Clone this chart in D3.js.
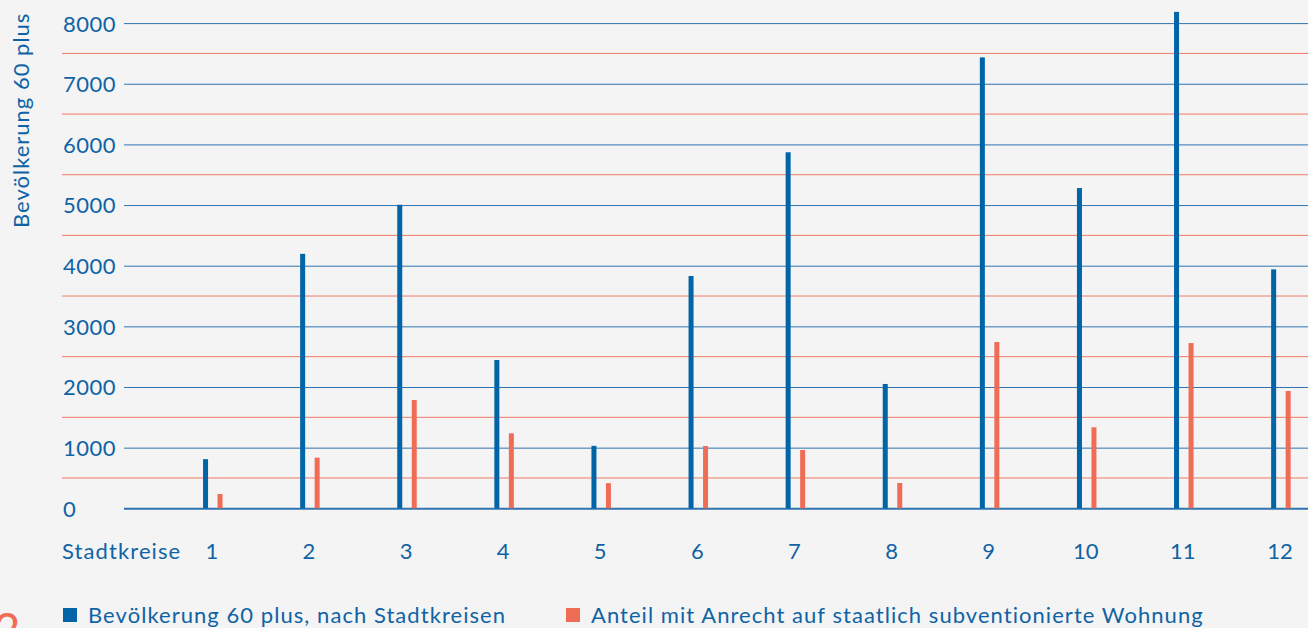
<!DOCTYPE html>
<html>
<head>
<meta charset="utf-8">
<script src="https://cdn.jsdelivr.net/npm/d3@7"></script>
<style>
  html, body { margin: 0; padding: 0; background: #f4f4f4; overflow: hidden; }
  svg { display: block; }
  text { font-family: Lato, "Open Sans", sans-serif; fill: #0f63a5; }
</style>
</head>
<body>
<svg id="chart" width="1308" height="628"></svg>
<script>
// ---- data ----
const categories = ["1", "2", "3", "4", "5", "6", "7", "8", "9", "10", "11", "12"];
const population60 = [810, 4195, 5005, 2445, 1030, 3830, 5870, 2050, 7435, 5280, 8185, 3940];
const entitled = [236, 835, 1785, 1236, 415, 1027, 961, 417, 2742, 1335, 2725, 1934];
const seriesNames = ["Bevölkerung 60 plus, nach Stadtkreisen", "Anteil mit Anrecht auf staatlich subventionierte Wohnung"];
const yTicks = [0, 1000, 2000, 3000, 4000, 5000, 6000, 7000, 8000];
const halfTicks = [500, 1500, 2500, 3500, 4500, 5500, 6500, 7500];
const yTitle = "Bevölkerung 60 plus";
const xTitle = "Stadtkreise";

// ---- styles ----
const BLUE = "#0064a7";
const RED = "#ef6d56";
const BLUE_LINE = "#2f74b0";
const RED_LINE = "#f07a66";

const svg = d3.select("#chart");
svg.append("rect").attr("width", 1308).attr("height", 628).attr("fill", "#f4f4f4");

const y = d3.scaleLinear().domain([0, 8000]).range([508.3, 23.1]);
const x = d3.scalePoint().domain(categories).range([212.8, 1280.9]);
const x1 = d3.scaleBand().domain([0, 1]).range([-9.75, 9.75]).paddingInner(0.655);

// half-step red grid lines
svg.append("g").selectAll("line").data(halfTicks).join("line")
  .attr("x1", 62).attr("x2", 1308)
  .attr("y1", d => y(d)).attr("y2", d => y(d))
  .attr("stroke", RED_LINE).attr("stroke-width", 1);

// blue grid lines (y axis ticks)
const yAxis = d3.axisLeft(y).tickValues(yTicks).tickSize(-(1308 - 124)).tickFormat(d => d);
const gy = svg.append("g").attr("transform", "translate(124,0)").call(yAxis);
gy.select(".domain").remove();
gy.selectAll(".tick line")
  .attr("stroke", BLUE_LINE)
  .attr("stroke-width", d => d === 0 ? 2 : 1);
gy.selectAll(".tick text")
  .attr("x", 63 - 124)
  .attr("text-anchor", "start")
  .attr("dy", "0.36em")
  .attr("font-size", 22)
  .attr("letter-spacing", 0.5)
  .style("font-family", "Lato, 'Open Sans', sans-serif")
  .attr("fill", "#0f63a5");

// bars
const data = categories.map((c, i) => ({ c, v: [population60[i], entitled[i]] }));
const groups = svg.append("g").selectAll("g").data(data).join("g")
  .attr("transform", d => `translate(${x(d.c)},0)`);
groups.selectAll("rect").data(d => d.v.map((v, k) => ({ k, v }))).join("rect")
  .attr("x", d => x1(d.k))
  .attr("width", x1.bandwidth())
  .attr("y", d => y(d.v))
  .attr("height", d => y(0) - y(d.v))
  .attr("fill", d => d.k === 0 ? BLUE : RED);

// x axis labels
const xAxis = d3.axisBottom(x).tickSize(0).tickFormat(d => d);
const gx = svg.append("g").attr("transform", "translate(-1.5,559)").call(xAxis);
gx.select(".domain").remove();
gx.selectAll(".tick text")
  .attr("y", 0).attr("dy", 0)
  .attr("font-size", 22)
  .style("font-family", "Lato, 'Open Sans', sans-serif")
  .attr("fill", "#0f63a5");

svg.append("text").attr("x", 62).attr("y", 559).attr("font-size", 22)
  .attr("letter-spacing", 1.1).text(xTitle);

// y title
svg.append("text")
  .attr("transform", "translate(28.5,228) rotate(-90)")
  .attr("font-size", 22)
  .attr("letter-spacing", 1)
  .text(yTitle);

// legend
const legend = svg.append("g");
const legendX = [63, 566];
seriesNames.forEach((name, i) => {
  legend.append("rect").attr("x", legendX[i]).attr("y", 608).attr("width", 14).attr("height", 14)
    .attr("fill", i === 0 ? BLUE : RED);
  legend.append("text").attr("x", legendX[i] + 25).attr("y", 623).attr("font-size", 22)
    .attr("letter-spacing", 1.05).text(name);
});

// partial page marker at bottom-left
svg.append("text").attr("x", 7).attr("y", 646).attr("text-anchor", "middle")
  .attr("font-size", 46).style("fill", RED).text("2");
</script>
</body>
</html>
